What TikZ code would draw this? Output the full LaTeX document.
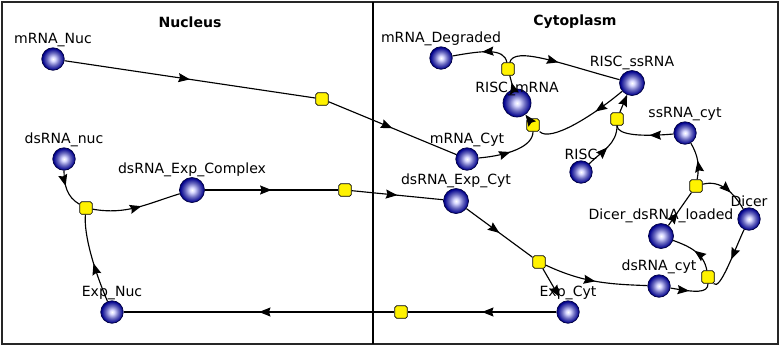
\documentclass[tikz,border=0pt]{standalone}
\usepackage{fontspec}
\setmainfont{DejaVu Sans}
\usepackage{tikz}
\usetikzlibrary{arrows.meta,decorations.markings}

\pgfdeclareradialshading{sphere}{\pgfpoint{0bp}{0bp}}{%
  color(0bp)=(white); color(5bp)=(white!85!blue); color(14bp)=(blue!45!white!75!black);
  color(24bp)=(blue!55!black); color(50bp)=(blue!40!black)}

\begin{document}
\begin{tikzpicture}[
  x=0.02cm, y=0.02cm,
  >={Stealth[length=2.3mm,width=1.8mm,inset=0.3mm]},
  species/.style={circle, draw=blue!25!black, shading=sphere, minimum size=0.45cm, inner sep=0pt},
  big/.style={minimum size=0.5cm},
  reaction/.style={draw, fill=yellow, rounded corners=1pt, minimum size=0.25cm, inner sep=0pt},
  lbl/.style={font=\fontsize{8}{9}\selectfont, inner sep=0pt},
  title/.style={font=\fontsize{8}{9}\selectfont\bfseries},
  edge/.style={line width=0.65pt, postaction={decorate},
    decoration={markings, mark=at position #1 with {\arrow{>}}}},
  edge/.default=0.5,
  prod/.style={line width=0.65pt, ->}
]
  \useasboundingbox (0,0) rectangle (781,-346);
  % compartments
  \draw[line width=1.1pt, black!85] (2,-2) rectangle (778,-344);
  \draw[line width=0.85pt] (373,-2) -- (373,-344);
  \node[title] (nucleus) at (190,-22) {Nucleus};
  \node[title] (cytoplasm) at (575,-22) {Cytoplasm};

  % species
  \node[species, label={[lbl]above:mRNA\_Nuc}] (mnuc) at (53,-59) {};
  \node[species, label={[lbl]above:dsRNA\_nuc}] (dsnuc) at (64,-159) {};
  \node[species, big, label={[lbl]above:dsRNA\_Exp\_Complex}] (dsexc) at (192,-190) {};
  \node[species, label={[lbl]above:Exp\_Nuc}] (enuc) at (112,-312) {};
  \node[species, label={[lbl]above:mRNA\_Degraded}] (mdeg) at (441,-58) {};
  \node[species, minimum size=0.56cm, label={[lbl, label distance=-4pt]above:RISC\_mRNA}] (rmrna) at (517,-103) {};
  \node[species, big, label={[lbl]above:RISC\_ssRNA}] (rssrna) at (632,-83) {};
  \node[species, label={[lbl]above:mRNA\_Cyt}] (mcyt) at (467,-159) {};
  \node[species, label={[lbl]above:RISC}] (risc) at (581,-172) {};
  \node[species, label={[lbl]above:ssRNA\_cyt}] (sscyt) at (685,-133) {};
  \node[species, big, label={[lbl]above:dsRNA\_Exp\_Cyt}] (dsecyt) at (456,-201) {};
  \node[species, label={[lbl]above:Dicer}] (dicer) at (749,-219) {};
  \node[species, big, label={[lbl]above:Dicer\_dsRNA\_loaded}] (dload) at (661,-236) {};
  \node[species, label={[lbl]above:dsRNA\_cyt}] (dscyt) at (659,-286) {};
  \node[species, label={[lbl]above:Exp\_Cyt}] (ecyt) at (568,-312) {};

  % reactions
  \node[reaction] (r1) at (322,-99) {};
  \node[reaction] (r2) at (86,-208) {};
  \node[reaction] (r3) at (345,-190) {};
  \node[reaction] (r4) at (539,-262) {};
  \node[reaction] (r5) at (401,-312) {};
  \node[reaction] (r6) at (508,-69) {};
  \node[reaction] (r7) at (533,-125) {};
  \node[reaction] (r8) at (617,-119) {};
  \node[reaction] (r9) at (696,-186) {};
  \node[reaction] (r10) at (708,-277) {};

  % nucleus edges
  \draw[edge] (mnuc) -- (r1);
  \draw[edge] (r1) -- (mcyt);
  \draw[edge=0.4] (dsnuc) to[out=-90, in=150] (r2);
  \draw[edge=0.45] (enuc) to[out=113, in=-95, in distance=0.4cm] (r2);
  \draw[edge=0.55] (r2) to[out=-10, in=197] (dsexc);
  \draw[edge] (dsexc) -- (r3);
  \draw[edge] (r3) -- (dsecyt);
  \draw[edge] (ecyt) -- (r5);
  \draw[edge] (r5) -- (enuc);

  % cytoplasm edges
  \draw[edge] (dsecyt) -- (r4);
  \draw[prod, shorten >=0.12cm] (r4) -- (ecyt);
  \draw[edge] (r4) to[out=-25, in=178] (dscyt);
  \draw[edge] (rmrna) -- (r6);
  \draw[edge] (r6) to[out=100, in=10, out distance=0.3cm, in distance=0.6cm] (mdeg);
  \draw[edge=0.45] (r6) to[out=75, in=165, out distance=0.35cm, in distance=1.2cm] (rssrna);
  \draw[edge] (mcyt) to[out=5, in=-90, out distance=0.6cm, in distance=0.3cm] (r7);
  \draw[edge=0.35] (rssrna) to[out=-140, in=-45, out distance=0.8cm, in distance=0.3cm] (r7);
  \draw[prod] (r7) -- (rmrna);
  \draw[edge] (risc) to[out=45, in=-90] (r8);
  \draw[edge=0.4] (sscyt) to[out=185, in=-90, out distance=0.6cm, in distance=0.2cm] (r8);
  \draw[prod] (r8) -- (rssrna);
  \draw[edge=0.4] (dload) -- (r9);
  \draw[edge] (r9) to[out=80, in=-60] (sscyt);
  \draw[edge=0.6] (r9) to[out=15, in=120] (dicer);
  \draw[edge] (dicer) to[out=-115, in=-50, in distance=0.2cm] (r10);
  \draw[edge=0.45] (dscyt) to[out=-10, in=-90, out distance=0.5cm, in distance=0.2cm] (r10);
  \draw[edge] (r10) to[out=100, in=-20] (dload);
\end{tikzpicture}
\end{document}
